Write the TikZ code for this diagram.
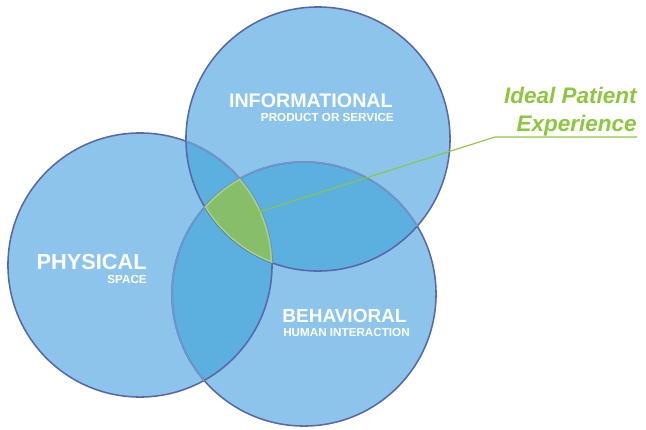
\documentclass[tikz,border=0pt]{standalone}
\usepackage{fontspec}
\setmainfont{Liberation Sans}
\usepackage{tikz}
\usetikzlibrary{calc}
\usetikzlibrary{positioning}
\definecolor{ringfill}{RGB}{141,196,235}
\definecolor{lensfill}{RGB}{91,176,224}
\definecolor{ringline}{RGB}{88,104,166}
\definecolor{ringsoft}{RGB}{115,150,200}
\definecolor{coregreen}{RGB}{134,190,105}
\definecolor{coreline}{RGB}{168,210,140}
\definecolor{callgreen}{RGB}{141,198,63}
\tikzstyle{ring} = [circle, minimum size=6.6cm, inner sep=0, fill=ringfill]
\tikzstyle{rim} = [ringline, line width=1.1pt]
\tikzstyle{softrim} = [ringsoft, line width=1.1pt]
\tikzstyle{big} = [inner sep=0, text=white, font=\bfseries\fontsize{14}{14}\selectfont]
\tikzstyle{small} = [inner sep=0, text=white, font=\bfseries\fontsize{8.3}{8.3}\selectfont]
\tikzstyle{call} = [inner sep=0, text=callgreen, font=\bfseries\itshape\fontsize{16}{16}\selectfont]

\begin{document}
\begin{tikzpicture}[x=0.025cm, y=-0.025cm]
\useasboundingbox (0,0) rectangle (646,429);
\node [ring] (beh) at (304,294) {};
\node [ring] (phy) at (140,265) {};
\node [ring] (inf) at (318,139) {};
% overlaps of two
\begin{scope}
\clip (inf.center) circle [radius=3.3cm];
\fill [lensfill] (phy.center) circle [radius=3.3cm];
\fill [lensfill] (beh.center) circle [radius=3.3cm];
\end{scope}
\begin{scope}
\clip (phy.center) circle [radius=3.3cm];
\fill [lensfill] (beh.center) circle [radius=3.3cm];
\end{scope}
\draw [rim] (beh.center) circle [radius=3.3cm];
\draw [rim] (phy.center) circle [radius=3.3cm];
\draw [rim] (inf.center) circle [radius=3.3cm];
\begin{scope}
\clip (inf.center) circle [radius=3.3cm];
\draw [softrim] (phy.center) circle [radius=3.3cm];
\draw [softrim] (beh.center) circle [radius=3.3cm];
\end{scope}
\begin{scope}
\clip (phy.center) circle [radius=3.3cm];
\draw [softrim] (beh.center) circle [radius=3.3cm];
\end{scope}
% common part of all three
\begin{scope}
\clip (inf.center) circle [radius=3.3cm];
\clip (phy.center) circle [radius=3.3cm];
\clip (beh.center) circle [radius=3.3cm];
\fill [coregreen] (beh.center) circle [radius=3.3cm];
\draw [coreline, line width=2pt] (beh.center) circle [radius=3.3cm];
\draw [coreline, line width=2pt] (phy.center) circle [radius=3.3cm];
\draw [coreline, line width=2pt] (inf.center) circle [radius=3.3cm];
\end{scope}
\node [big, anchor=base east] (infT) at (393,107) {INFORMATIONAL};
\node [small, anchor=base east] (infS) at (394,121) {PRODUCT OR SERVICE};
\node [big, anchor=base east, font=\bfseries\fontsize{15.5}{15.5}\selectfont] (phyT) at (147,269) {PHYSICAL};
\node [small, anchor=base east] (phyS) at (147,283) {SPACE};
\node [big, anchor=base, font=\bfseries\fontsize{13.5}{13.5}\selectfont] (behT) at (344.5,322) {BEHAVIORAL};
\node [small, anchor=base] (behS) at (346.5,336) {HUMAN INTERACTION};
\node [call, anchor=base east] (ideal) at (637,103) {Ideal Patient};
\node [call, anchor=base east] (exp) at (637,131) {Experience};
\coordinate (core) at (249,215);
\coordinate (knee) at (495,137);
\coordinate (tail) at (637,137);
\draw [callgreen, line width=.8pt] (core) -- (knee) -- (tail);
\end{tikzpicture}
\end{document}
